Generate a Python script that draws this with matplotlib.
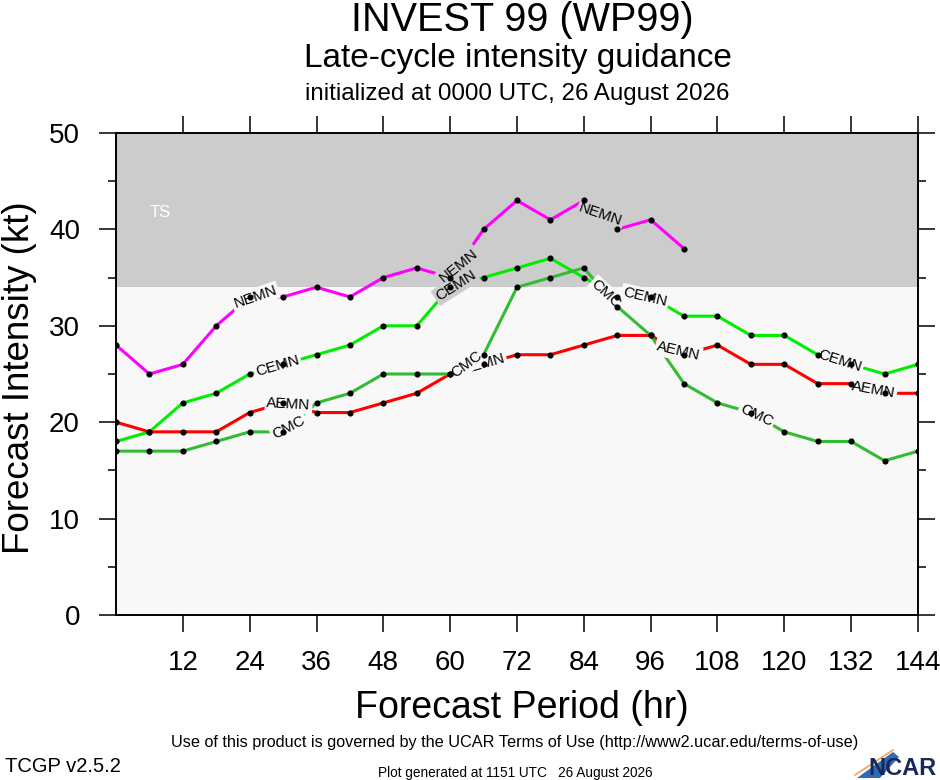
import numpy as np
import matplotlib.pyplot as plt
from matplotlib.patches import Polygon

plt.rcParams['font.family'] = ['Liberation Sans', 'DejaVu Sans']

# forecast hours and model intensities (kt)
hours = np.arange(0, 145, 6)
nemn = [28, 25, 26, 30, 33, 33, 34, 33, 35, 36, 35, 40, 43, 41, 43, 40, 41, 38]
cemn = [18, 19, 22, 23, 25, 26, 27, 28, 30, 30, 34, 35, 36, 37, 35, 33, 33,
        31, 31, 29, 29, 27, 26, 25, 26]
aemn = [20, 19, 19, 19, 21, 22, 21, 21, 22, 23, 25, 26, 27, 27, 28, 29, 29,
        27, 28, 26, 26, 24, 24, 23, 23]
cmc = [17, 17, 17, 18, 19, 19, 22, 23, 25, 25, 25, 27, 34, 35, 36, 32, 29,
       24, 22, 21, 19, 18, 18, 16, 17]

models = ['NEMN', 'CEMN', 'AEMN', 'CMC']
series = [nemn, cemn, aemn, cmc]
colors = ['#ff00ff', '#00ee00', '#ff0000', '#33bb33']
# hours where the inline model names sit
label_hours = [[25, 61.5, 87], [29, 61, 95, 130], [31, 66, 101, 136], [31, 63, 88, 115]]

ts_threshold = 34
ymax = 50

fig = plt.figure(figsize=(9.4, 7.8), dpi=100)
ax = fig.add_axes([116 / 940, 165 / 780, 802 / 940, 482 / 780])
ax.set_xlim(0, 144)
ax.set_ylim(0, ymax)
ax.set_facecolor('#f8f8f8')
ax.axhspan(ts_threshold, ymax, color='#cccccc', lw=0, zorder=0)
ax.text(8, 41.8, 'TS', color='white', fontsize=12, ha='center', va='center')

for name, vals, col, lh in zip(models, series, colors, label_hours):
    x = hours[:len(vals)]
    ax.plot(x, vals, color=col, lw=2.2, zorder=2)
    ax.plot(x, vals, 'o', color='black', ms=3.4, zorder=4)
    for h in lh:
        yv = np.interp(h, x, vals)
        p1 = ax.transData.transform((h - 5, np.interp(h - 5, x, vals)))
        p2 = ax.transData.transform((h + 5, np.interp(h + 5, x, vals)))
        ang = np.degrees(np.arctan2(p2[1] - p1[1], p2[0] - p1[0]))
        bg = '#cccccc' if yv >= ts_threshold else '#f8f8f8'
        ax.text(h, yv, name, fontsize=11, rotation=ang, rotation_mode='anchor',
                ha='center', va='center', zorder=3,
                bbox=dict(boxstyle='square,pad=0.12', fc=bg, ec='none'))

ax.set_xticks(np.arange(12, 145, 12))
ax.set_yticks(np.arange(0, 51, 10))
ax.set_yticks(np.arange(5, 50, 10), minor=True)
ax.tick_params(axis='both', which='major', direction='out', length=12, width=1.1,
               labelsize=20, top=True, right=True)
ax.tick_params(axis='y', which='minor', direction='out', length=6, width=1.1,
               left=True, right=True)
ax.tick_params(axis='y', which='major', pad=14)
ax.tick_params(axis='x', which='major', pad=13)
for sp in ax.spines.values():
    sp.set_linewidth(1.4)

# titles
fig.text(522 / 940, 1 - 31 / 780, 'INVEST 99 (WP99)', fontsize=28.5,
         ha='center', va='baseline')
fig.text(518 / 940, 1 - 67 / 780, 'Late-cycle intensity guidance', fontsize=24,
         ha='center', va='baseline')
fig.text(517 / 940, 1 - 100 / 780, 'initialized at 0000 UTC, 26 August 2026',
         fontsize=17.4, ha='center', va='baseline')

fig.text(522 / 940, 1 - 718 / 780, 'Forecast Period (hr)', fontsize=27,
         ha='center', va='baseline')
fig.text(20 / 940, 1 - 378 / 780, 'Forecast Intensity (kt)', fontsize=26.5,
         rotation=90, ha='center', va='center')

# footer
fig.text(515 / 940, 1 - 747 / 780,
         'Use of this product is governed by the UCAR Terms of Use '
         '(http://www2.ucar.edu/terms-of-use)',
         fontsize=11.7, ha='center', va='baseline')
fig.text(5 / 940, 1 - 772 / 780, 'TCGP v2.5.2', fontsize=14.5,
         ha='left', va='baseline')
fig.text(515 / 940, 1 - 777 / 780, 'Plot generated at 1151 UTC   26 August 2026',
         fontsize=9.8, ha='center', va='baseline')

# NCAR logo
swoosh = Polygon([[857 / 940, 1 - 778 / 780], [893 / 940, 1 - 752 / 780],
                  [899 / 940, 1 - 757 / 780], [880 / 940, 1 - 778 / 780]],
                 closed=True, transform=fig.transFigure, fc='#2d6cb5', ec='none')
fig.patches.append(swoosh)
fig.lines.append(plt.Line2D([855 / 940, 893 / 940], [1 - 775 / 780, 1 - 750 / 780],
                            transform=fig.transFigure, color='#f0a060', lw=1.2))
fig.text(936 / 940, 1 - 775 / 780, 'NCAR', fontsize=17,
         fontweight='bold', color='#18285a', ha='right', va='baseline')

fig.savefig('out.png', dpi=100)
